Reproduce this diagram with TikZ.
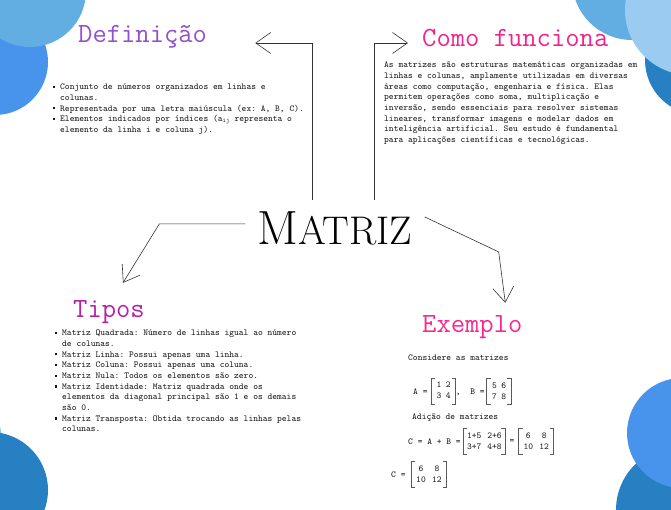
\documentclass[tikz,border=0pt]{standalone}
\usepackage{fontspec}
\usetikzlibrary{matrix,arrows.meta,positioning}
\definecolor{skyc}{HTML}{62AEE3}
\definecolor{brightc}{HTML}{4894EC}
\definecolor{darkc}{HTML}{2680C2}
\definecolor{palec}{HTML}{9BCBF0}
\definecolor{defc}{HTML}{9150CC}
\definecolor{comoc}{HTML}{F0238C}
\definecolor{tiposc}{HTML}{B61FA6}
\definecolor{exemc}{HTML}{F5288F}
\newcommand\bul{\makebox[7pt][l]{\rule[1.6pt]{2.2pt}{2.2pt}}}

\begin{document}
\begin{tikzpicture}[x=1pt, y=-1pt,
  head/.style={font=\ttfamily\fontsize{27.8}{30}\selectfont, inner sep=0pt, anchor=base west},
  txt/.style={font=\ttfamily\frenchspacing\fontsize{9.1}{10.7}\selectfont, inner sep=0pt, text=black!90},
  blk/.style={txt, anchor=north west},
  arr/.style={draw=black!80, line width=0.6pt, -{Straight Barb[length=15pt,width=21pt]}},
  mat/.style={matrix of nodes, nodes={txt, text height=6.5pt, text depth=2pt},
    row sep=2.5pt, column sep=4.5pt, inner xsep=5pt, inner ysep=3pt},
  brk/.style={draw=black!65, line width=1.1pt}]
 \path[use as bounding box, clip] (0,0) rectangle (671,510);
 \fill[brightc] (-5,62) circle[radius=53pt];
 \fill[skyc] (30,-9) circle[radius=56pt];
 \fill[skyc] (632,-20) circle[radius=60pt];
 \fill[darkc] (700,60) circle[radius=55pt];
 \fill[palec] (690,10) circle[radius=65pt];
 \fill[darkc] (680,510) circle[radius=64pt];
 \fill[brightc] (682,433) circle[radius=55pt];
 \fill[palec] (-45,440) circle[radius=47pt];
 \fill[darkc] (-10,490) circle[radius=58pt];

 \node[anchor=base, inner xsep=12pt, inner ysep=12pt] (matriz) at (335,245)
   {\fontsize{48}{48}\selectfont M\fontsize{40}{40}\selectfont ATRIZ};

 \node[head, text=defc] (defin) at (78,43) {Definição};
 \node[head, text=comoc] (como) at (422,47) {Como funciona};
 \node[head, text=tiposc] (tipos) at (73,317) {Tipos};
 \node[head, text=exemc] (exemplo) at (422,332) {Exemplo};

 \node[blk] (deftxt) at (53,82) {\begin{tabular}{@{}l@{}l@{}}
  \bul & Conjunto de números organizados em linhas e\\
       & colunas.\\
  \bul & Representada por uma letra maiúscula (ex: A, B, C).\\
  \bul & Elementos indicados por índices (a\textsubscript{ij} representa o\\
       & elemento da linha i e coluna j).
 \end{tabular}};

 \node[blk] (comotxt) at (384,60) {\begin{tabular}{@{}l@{}}
  As matrizes são estruturas matemáticas organizadas em\\
  linhas e colunas, amplamente utilizadas em diversas\\
  áreas como computação, engenharia e física. Elas\\
  permitem operações como soma, multiplicação e\\
  inversão, sendo essenciais para resolver sistemas\\
  lineares, transformar imagens e modelar dados em\\
  inteligência artificial. Seu estudo é fundamental\\
  para aplicações científicas e tecnológicas.
 \end{tabular}};

 \node[blk] (tipostxt) at (55,328) {\begin{tabular}{@{}l@{}l@{}}
  \bul & Matriz Quadrada: Número de linhas igual ao número\\
       & de colunas.\\
  \bul & Matriz Linha: Possui apenas uma linha.\\
  \bul & Matriz Coluna: Possui apenas uma coluna.\\
  \bul & Matriz Nula: Todos os elementos são zero.\\
  \bul & Matriz Identidade: Matriz quadrada onde os\\
       & elementos da diagonal principal são 1 e os demais\\
       & são 0.\\
  \bul & Matriz Transposta: Obtida trocando as linhas pelas\\
       & colunas.
 \end{tabular}};

 \node[txt, anchor=base west] (consid) at (408,360.5) {Considere as matrizes};
 \node[txt, anchor=base west] (ca) at (413,394) {A =};
 \matrix (ma) [mat, right=3.6pt of ca] {1 & 2\\ 3 & 4\\};
 \node[txt, anchor=base west] (cb) at (ma.east |- ca.base) {,\ \ B =};
 \matrix (mb) [mat, right=2pt of cb] {5 & 6\\ 7 & 8\\};
 \node[txt, anchor=base west] (adic) at (412,419.5) {Adição de matrizes};
 \node[txt, anchor=base west] (cs) at (408,444.5) {C = A + B =};
 \matrix (ms) [mat, column sep=6pt, inner xsep=3.5pt, right=2.4pt of cs] {1+5 & 2+6\\ 3+7 & 4+8\\};
 \node[txt, right=4pt of ms] (eq) {=};
 \matrix (mr) [mat, inner xsep=4.7pt, column sep=6.4pt, right=4pt of eq] {6 & 8\\ 10 & 12\\};
 \node[txt, anchor=base west] (cc) at (391,477.5) {C =};
 \matrix (mc) [mat, inner xsep=4.7pt, column sep=6.4pt, right=5.6pt of cc] {6 & 8\\ 10 & 12\\};
 \foreach \m in {ma,mb,ms,mr,mc}
  \draw[brk] ([xshift=4pt]\m.north west) -| (\m.south west) -- ++(4pt,0)
             ([xshift=-4pt]\m.north east) -| (\m.south east) -- ++(-4pt,0);

 \draw[arr] ([xshift=-23pt]matriz.north) |- ([xshift=48pt]defin.base east);
 \draw[arr] ([xshift=39pt]matriz.north) |- ([xshift=-14pt,yshift=4pt]como.base west);
 \draw[arr] ([yshift=5pt]matriz.west) -- ++(-86,0) -- ([xshift=14pt,yshift=17pt]tipos.north);
 \draw[arr] ([yshift=12pt]matriz.east) -- ++(74,35) -- ([xshift=33pt,yshift=12pt]exemplo.north);
\end{tikzpicture}
\end{document}
